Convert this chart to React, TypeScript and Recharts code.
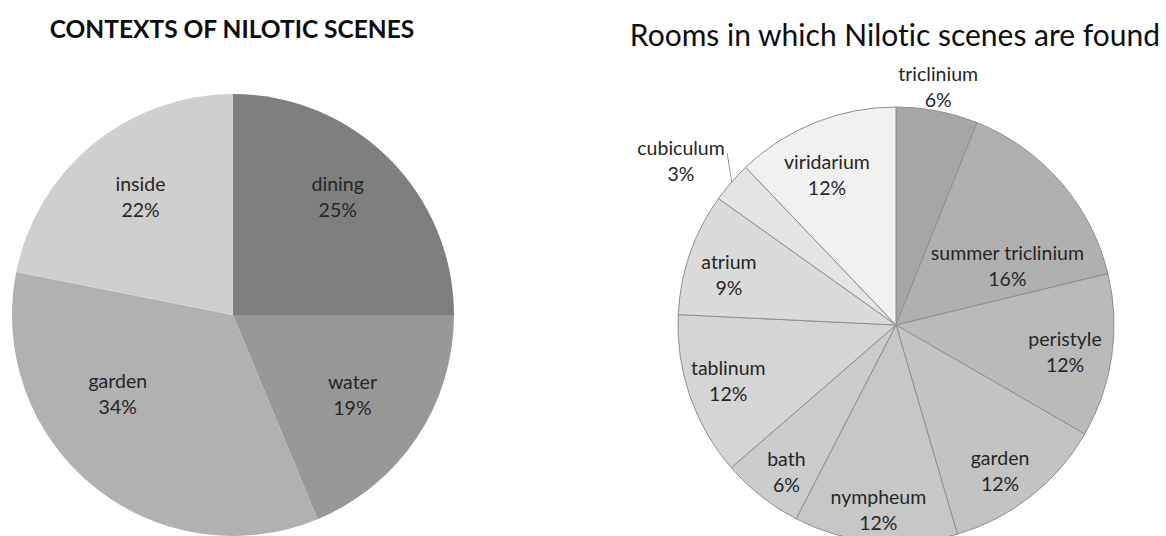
import { PieChart, Pie, Cell } from 'recharts';

// left chart: contexts (counts, labels as printed)
const contextNames = ['dining', 'water', 'garden', 'inside'];
const contextCounts = [8, 6, 11, 7];
const contextPct = ['25%', '19%', '34%', '22%'];

// right chart: rooms
const roomNames = [
  'triclinium',
  'summer triclinium',
  'peristyle',
  'garden',
  'nympheum',
  'bath',
  'tablinum',
  'atrium',
  'cubiculum',
  'viridarium',
];
const roomCounts = [2, 5, 4, 4, 4, 2, 4, 3, 1, 4];
const roomPct = ['6%', '16%', '12%', '12%', '12%', '6%', '12%', '9%', '3%', '12%'];

const contextColors = ['#7f7f7f', '#989898', '#b1b1b1', '#cfcfcf'];
const roomColors = [
  '#a6a6a6',
  '#b0b0b0',
  '#bababa',
  '#c3c3c3',
  '#c7c7c7',
  '#cccccc',
  '#d5d5d5',
  '#dbdbdb',
  '#e4e4e4',
  '#f1f1f1',
];

// label placement (radius factor, angle nudge in degrees) – mimics Excel "best fit"
const contextLabelPos: [number, number][] = [
  [0.715, 3.5],
  [0.65, 0],
  [0.63, -16.5],
  [0.68, -1.4],
];
const roomLabelPos: [number, number][] = [
  [1.113, 0.9],
  [0.58, -12.7],
  [0.785, -0.8],
  [0.82, -2.6],
  [0.85, 0],
  [0.84, 1.4],
  [0.81, -0.9],
  [0.8, 2.4],
  [1.243, 3.4],
  [0.76, 2.8],
];

const FONT = 'Lato, "Open Sans", sans-serif';
const RAD = Math.PI / 180;

const contextData = contextNames.map((name, i) => ({ name, value: contextCounts[i], pct: contextPct[i] }));
const roomData = roomNames.map((name, i) => ({ name, value: roomCounts[i], pct: roomPct[i] }));

function makeLabel(pos: [number, number][], leaderIndex: number | null) {
  return (props: any) => {
    const { cx, cy, midAngle, outerRadius, index, payload } = props;
    const [f, d] = pos[index];
    const a = (midAngle + d) * RAD;
    const x = cx + outerRadius * f * Math.cos(-a);
    const y = cy + outerRadius * f * Math.sin(-a);
    let leader = null;
    if (index === leaderIndex) {
      const ex = cx + (outerRadius - 1) * Math.cos(-midAngle * RAD);
      const ey = cy + (outerRadius - 1) * Math.sin(-midAngle * RAD);
      leader = <path d={`M${x + 46},${y - 7}L${ex},${ey}`} stroke="#9a9a9a" strokeWidth={1} fill="none" />;
    }
    return (
      <g>
        {leader}
        <text x={x} y={y} textAnchor="middle" fill="#262626" fontFamily={FONT} fontSize={19.5}>
          <tspan x={x} y={y - 13} dominantBaseline="central">{payload.name}</tspan>
          <tspan x={x} y={y + 13} dominantBaseline="central">{payload.pct}</tspan>
        </text>
      </g>
    );
  };
}

export default function App() {
  return (
    <div style={{ position: 'absolute', left: 0, top: 0, width: 1166, height: 536, background: '#fff' }}>
      <div
        style={{
          position: 'absolute',
          left: 0,
          width: 464,
          top: 12,
          textAlign: 'center',
          fontFamily: FONT,
          fontWeight: 700,
          fontSize: 24.5,
          lineHeight: '34px',
          color: '#0d0d0d',
        }}>
        CONTEXTS OF NILOTIC SCENES
      </div>
      <div
        style={{
          position: 'absolute',
          left: 595,
          width: 600,
          top: 15,
          textAlign: 'center',
          fontFamily: FONT,
          fontSize: 30,
          lineHeight: '38px',
          fontVariantLigatures: 'none',
          color: '#0d0d0d',
        }}>
        Rooms in which Nilotic scenes are found
      </div>
      <PieChart width={1166} height={536} margin={{ top: 0, right: 0, bottom: 0, left: 0 }}>
        <Pie
          data={contextData}
          dataKey="value"
          cx={233}
          cy={315}
          outerRadius={221}
          startAngle={90}
          endAngle={-270}
          stroke="none"
          label={makeLabel(contextLabelPos, null)}
          labelLine={false}
          isAnimationActive={false}>
          {contextData.map((d, i) => (
            <Cell key={d.name} fill={contextColors[i]} />
          ))}
        </Pie>
        <Pie
          data={roomData}
          dataKey="value"
          cx={896}
          cy={325}
          outerRadius={218}
          startAngle={90}
          endAngle={-270}
          stroke="#8f8f8f"
          strokeWidth={1}
          label={makeLabel(roomLabelPos, 8)}
          labelLine={false}
          isAnimationActive={false}>
          {roomData.map((d, i) => (
            <Cell key={d.name} fill={roomColors[i]} />
          ))}
        </Pie>
      </PieChart>
    </div>
  );
}
